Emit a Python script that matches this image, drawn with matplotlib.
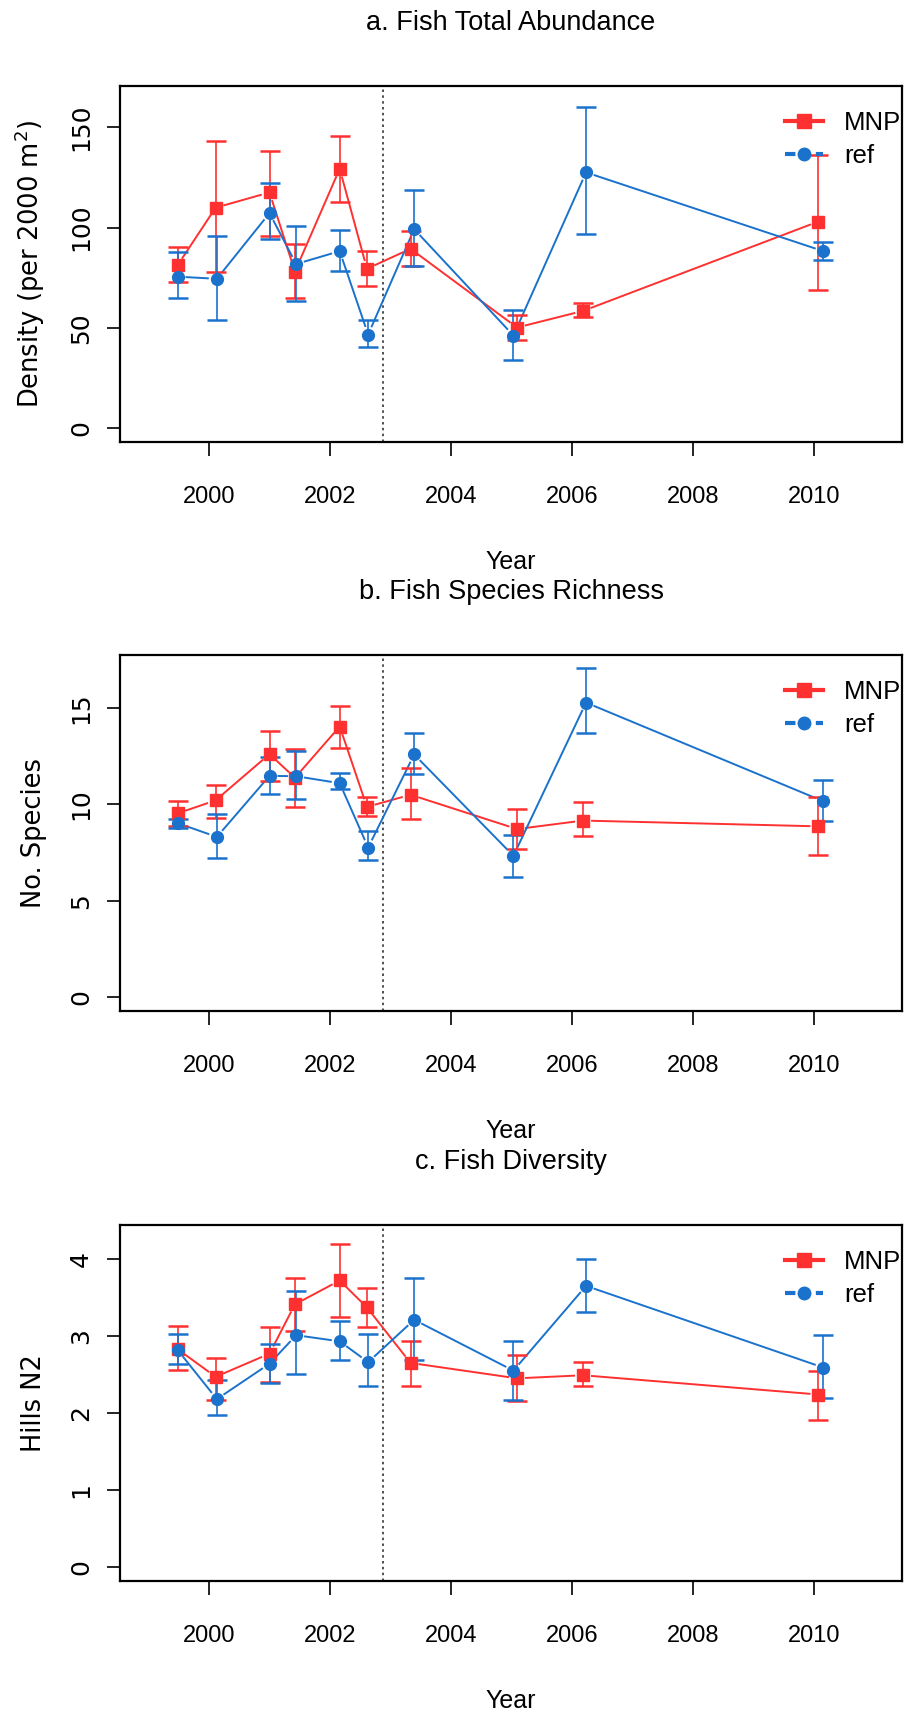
import numpy as np
import matplotlib
matplotlib.use("Agg")
import matplotlib.pyplot as plt
from matplotlib.lines import Line2D
from matplotlib import font_manager

# años de muestreo (MNP y sitios de referencia ligeramente desplazados)
year_mnp = [1999.48, 2000.11, 2001.0, 2001.42, 2002.16, 2002.61, 2003.33, 2005.09, 2006.18, 2010.07]
year_ref = [1999.48, 2000.13, 2001.0, 2001.44, 2002.16, 2002.63, 2003.39, 2005.03, 2006.23, 2010.15]
year_mpa = 2002.87

# a. abundancia total
abund_mnp = [81.1, 109.9, 117.5, 78.0, 129.3, 79.4, 89.4, 50.1, 58.4, 103.0]
abund_mnp_lo = [72.6, 77.6, 95.8, 64.6, 112.8, 70.6, 80.9, 43.7, 55.5, 68.9]
abund_mnp_hi = [90.2, 143.3, 138.2, 91.8, 145.8, 88.3, 98.5, 56.4, 62.4, 136.4]
abund_ref = [75.5, 74.4, 107.2, 81.8, 88.2, 46.6, 99.2, 46.1, 127.5, 88.2]
abund_ref_lo = [64.6, 53.9, 94.3, 63.1, 78.4, 40.3, 81.0, 33.7, 97.0, 83.6]
abund_ref_hi = [87.6, 96.0, 122.1, 101.0, 98.7, 53.9, 118.8, 58.9, 160.2, 92.9]

# b. riqueza de especies
rich_mnp = [9.53, 10.21, 12.61, 11.38, 14.04, 9.87, 10.50, 8.72, 9.16, 8.86]
rich_mnp_lo = [8.88, 9.31, 11.23, 9.84, 12.91, 9.40, 9.23, 7.67, 8.35, 7.39]
rich_mnp_hi = [10.19, 10.99, 13.79, 12.85, 15.11, 10.36, 11.87, 9.74, 10.12, 10.36]
rich_ref = [9.03, 8.31, 11.48, 11.46, 11.10, 7.76, 12.59, 7.33, 15.28, 10.16]
rich_ref_lo = [8.80, 7.20, 10.53, 10.27, 10.80, 7.14, 11.59, 6.24, 13.70, 9.14]
rich_ref_hi = [9.25, 9.50, 12.47, 12.79, 11.61, 8.61, 13.70, 8.42, 17.05, 11.25]

# c. diversidad (Hills N2)
div_mnp = [2.83, 2.47, 2.77, 3.41, 3.72, 3.37, 2.65, 2.45, 2.49, 2.24]
div_mnp_lo = [2.56, 2.17, 2.40, 3.07, 3.25, 3.11, 2.35, 2.15, 2.35, 1.91]
div_mnp_hi = [3.13, 2.72, 3.11, 3.75, 4.19, 3.62, 2.94, 2.75, 2.66, 2.54]
div_ref = [2.82, 2.18, 2.64, 3.01, 2.93, 2.66, 3.21, 2.55, 3.65, 2.59]
div_ref_lo = [2.63, 1.97, 2.39, 2.50, 2.69, 2.35, 2.69, 2.17, 3.31, 2.19]
div_ref_hi = [3.03, 2.43, 2.90, 3.58, 3.19, 3.03, 3.75, 2.94, 4.00, 3.01]

titles = ["a. Fish Total Abundance", "b. Fish Species Richness", "c. Fish Diversity"]
ylabels = [r"Density (per 2000 m$^2$)", "No. Species", "Hills N2"]
yticks = [[0, 50, 100, 150], [0, 5, 10, 15], [0, 1, 2, 3, 4]]
ylims = [(-7.0, 170.6), (-0.72, 17.75), (-0.18, 4.44)]
xticks = [2000, 2002, 2004, 2006, 2008, 2010]

RED = "#ff3030"
BLUE = "#1a72cc"

# fuente estrecha si existe, si no Liberation Sans
nombres = {f.name for f in font_manager.fontManager.ttflist}
NARROW = "Liberation Sans Narrow" if "Liberation Sans Narrow" in nombres else "Liberation Sans"
WIDE = "DejaVu Sans"
plt.rcParams["mathtext.fontset"] = "dejavusans"

W, H = 905, 1713
fig = plt.figure(figsize=(W / 100, H / 100), dpi=100)

bottoms_px = [442, 1011, 1581]
ax_h = 356


def gap_line(ax, x, y, color, gap=9):
    # como type="b" en R: segmentos con un hueco alrededor de cada punto
    pts = ax.transData.transform(np.column_stack([x, y]))
    inv = ax.transData.inverted()
    for p0, p1 in zip(pts[:-1], pts[1:]):
        d = p1 - p0
        n = np.hypot(*d)
        if n <= 2 * gap:
            continue
        u = d / n
        a = inv.transform(p0 + u * gap)
        b = inv.transform(p1 - u * gap)
        ax.plot([a[0], b[0]], [a[1], b[1]], color=color, lw=1.4, zorder=2)


def panel(ax, i, m_mnp, lo_mnp, hi_mnp, m_ref, lo_ref, hi_ref):
    ax.set_xlim(1998.53, 2011.45)
    ax.set_ylim(*ylims[i])
    for x, m, lo, hi, col, mk in [(year_mnp, m_mnp, lo_mnp, hi_mnp, RED, "s"),
                                  (year_ref, m_ref, lo_ref, hi_ref, BLUE, "o")]:
        m = np.array(m)
        err = [m - np.array(lo), np.array(hi) - m]
        ax.errorbar(x, m, yerr=err, fmt="none", ecolor=col, elinewidth=1.2,
                    capsize=7.5, capthick=1.8, zorder=3)
        gap_line(ax, x, m, col)
        ax.plot(x, m, linestyle="none", marker=mk, color=col,
                markersize=9 if mk == "s" else 8.5, zorder=4)
    ax.axvline(year_mpa, color="#333333", linestyle=(0, (1.5, 2)), lw=1.2, zorder=1)

    ax.set_xticks(xticks)
    ax.set_yticks(yticks[i])
    ax.tick_params(axis="x", length=10, width=1.2, pad=22, labelsize=17)
    ax.tick_params(axis="y", length=9.5, width=1.2, pad=10, labelsize=18)
    for lab in ax.get_xticklabels():
        lab.set_fontfamily(NARROW)
    for lab in ax.get_yticklabels():
        lab.set_fontfamily(WIDE)
        lab.set_rotation(90)
        lab.set_va("center")
    for s in ax.spines.values():
        s.set_linewidth(1.6)

    ax.set_xlabel("Year", fontsize=18, fontfamily=NARROW)
    ax.xaxis.label.set_va("center")
    ax.xaxis.set_label_coords(0.5, -(120 / ax_h))
    ax.set_ylabel(ylabels[i], fontsize=18.5, fontfamily=WIDE)
    ax.yaxis.set_label_coords(-0.093, 0.5)
    ax.text(0.5, 1 + (86.5 - 23.6) / ax_h, titles[i], transform=ax.transAxes,
            ha="center", va="center", fontsize=19.5, fontfamily=NARROW)

    handles = [Line2D([], [], color=RED, lw=3, marker="s", markersize=10),
               Line2D([], [], color=BLUE, lw=3, marker="o", markersize=9, linestyle=(0, (2.5, 1.2)))]
    ax.legend(handles, ["MNP", "ref"], loc="upper left", bbox_to_anchor=(0.85, 0.93),
              frameon=False, prop={"family": NARROW, "size": 18.5}, handlelength=1.5,
              handletextpad=0.8, labelspacing=0.35, borderpad=0, borderaxespad=0)


data = [(abund_mnp, abund_mnp_lo, abund_mnp_hi, abund_ref, abund_ref_lo, abund_ref_hi),
        (rich_mnp, rich_mnp_lo, rich_mnp_hi, rich_ref, rich_ref_lo, rich_ref_hi),
        (div_mnp, div_mnp_lo, div_mnp_hi, div_ref, div_ref_lo, div_ref_hi)]

for i, d in enumerate(data):
    b = bottoms_px[i]
    ax = fig.add_axes([120 / W, 1 - b / H, 782 / W, ax_h / H])
    panel(ax, i, *d)

fig.savefig("out.png", dpi=100)
